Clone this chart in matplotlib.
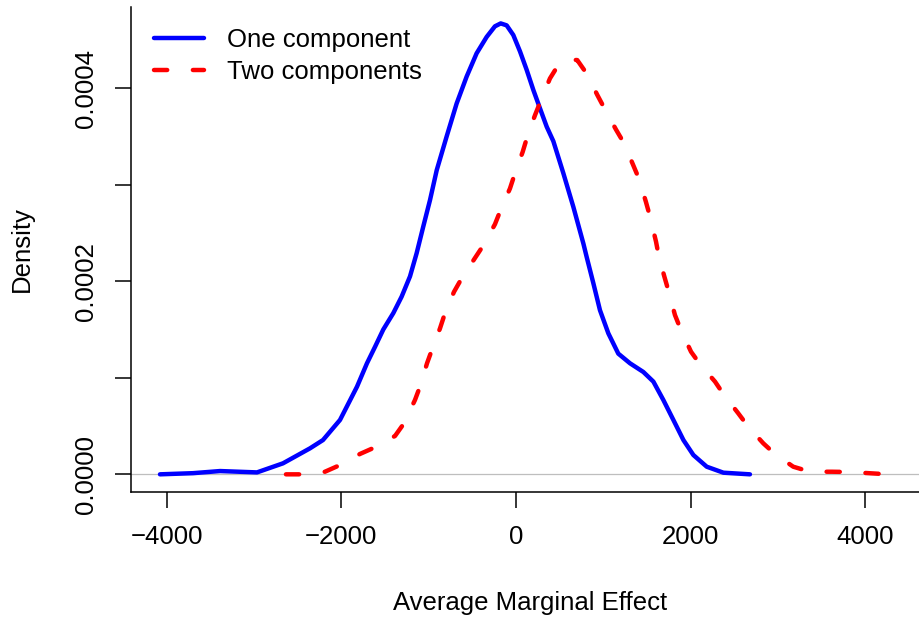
import matplotlib
matplotlib.use('Agg')
import matplotlib.pyplot as plt

# density curves (x = average marginal effect, y = density)
one_x = [-4078, -3700, -3390, -2967, -2669, -2360, -2211, -2016, -1821, -1707, -1615,
         -1520, -1405, -1310, -1214, -1138, -1061, -985, -908, -794, -680, -565,
         -451, -336, -241, -175, -107, -31, 46, 122, 199, 275, 352, 428, 542, 657,
         772, 810, 886, 962, 1058, 1172, 1306, 1459, 1574, 1688, 1803, 1918, 2032,
         2185, 2376, 2680]
one_y = [0.0, 0.0000012, 0.0000034, 0.000002, 0.0000114, 0.0000269, 0.0000355,
         0.0000563, 0.0000908, 0.000115, 0.000132, 0.000150, 0.000167, 0.000184,
         0.000205, 0.000229, 0.000257, 0.000284, 0.000315, 0.000350, 0.000384,
         0.000412, 0.000436, 0.000453, 0.000464, 0.000467, 0.000465, 0.000455,
         0.000438, 0.000419, 0.000398, 0.000379, 0.000360, 0.000345, 0.000312,
         0.000277, 0.000239, 0.000225, 0.000198, 0.000170, 0.000146, 0.000125,
         0.000115, 0.000106, 0.000096, 0.000077, 0.0000563, 0.0000355, 0.000020,
         0.0000079, 0.0000017, 0.0]

two_x = [-2635, -2440, -2188, -2016, -1787, -1615, -1386, -1283, -1157, -1100, -1019,
         -951, -871, -813, -710, -622, -470, -375, -241, -175, -69, -11, 77, 137,
         218, 298, 389, 485, 584, 702, 810, 931, 1019, 1146, 1237, 1344, 1409,
         1489, 1535, 1604, 1638, 1699, 1753, 1821, 1887, 2005, 2108, 2280, 2383,
         2546, 2661, 2833, 2967, 3176, 3368, 3620, 3826, 4078, 4261]
two_y = [0.0, 0.0, 0.0000027, 0.0000096, 0.0000211, 0.000028, 0.0000397, 0.0000528,
         0.000077, 0.0000908, 0.000115, 0.000132, 0.000151, 0.000167, 0.000189,
         0.000203, 0.000224, 0.000237, 0.000259, 0.000274, 0.000296, 0.000312,
         0.000334, 0.000352, 0.000372, 0.000390, 0.000410, 0.000424, 0.000430,
         0.000429, 0.000415, 0.000393, 0.000378, 0.000357, 0.000343, 0.000320,
         0.000306, 0.000282, 0.000267, 0.000241, 0.000225, 0.000205, 0.000188,
         0.000165, 0.000150, 0.000127, 0.000114, 0.000096, 0.0000822, 0.0000632,
         0.0000493, 0.0000321, 0.000021, 0.0000079, 0.0000027, 0.0000027,
         0.0000024, 0.000001, 0.0]

x_ticks = [-4000, -2000, 0, 2000, 4000]
y_ticks = [0.0, 0.0001, 0.0002, 0.0003, 0.0004]
y_labels = ['0.0000', '', '0.0002', '', '0.0004']

plt.rcParams['font.family'] = ['Liberation Sans', 'DejaVu Sans']
plt.rcParams['lines.scale_dashes'] = False

fig = plt.figure(figsize=(9.2, 6.18), dpi=100)
ax = fig.add_axes([131 / 920, 1 - 492 / 618, 1 - 131 / 920, (492 - 7) / 618])

ax.axhline(0, color='#BEBEBE', lw=0.9, zorder=1)
ax.plot(one_x, one_y, color='#0000FF', lw=3.2, solid_capstyle='round',
        solid_joinstyle='round', label='One component', zorder=3)
ax.plot(two_x, two_y, color='#FF0000', lw=3.2, dashes=(9.5, 18.5),
        dash_capstyle='round', label='Two components', zorder=3)

ax.set_xlim(-4410, 4628)
ax.set_ylim(-0.0000183, 0.000484)

ax.set_xticks(x_ticks)
ax.set_xticklabels([f'{v:.0f}'.replace('-', '\u2212') for v in x_ticks])
ax.set_yticks(y_ticks)
ax.set_yticklabels(y_labels)
ax.tick_params(axis='both', direction='out', length=11.5, width=1.1,
               labelsize=18.5, pad=12)
for lab in ax.get_yticklabels():
    lab.set_rotation(90)
    lab.set_va('center')
    lab.set_ha('right')

for side in ['top', 'right']:
    ax.spines[side].set_visible(False)
for side in ['left', 'bottom']:
    ax.spines[side].set_linewidth(1.1)

ax.legend(loc='upper left', bbox_to_anchor=(0.0292, 0.957), frameon=False,
          fontsize=18.5, handlelength=1.95, handletextpad=0.88,
          labelspacing=0.3, borderaxespad=0.0, borderpad=0.0)

fig.text(530 / 920, 1 - 603 / 618, 'Average Marginal Effect', fontsize=18.5,
         ha='center', va='center')
fig.text(22 / 920, 1 - 249 / 618, 'Density', fontsize=18.5, rotation=90,
         ha='center', va='center')

fig.savefig('out.png', dpi=100)
plt.close(fig)
